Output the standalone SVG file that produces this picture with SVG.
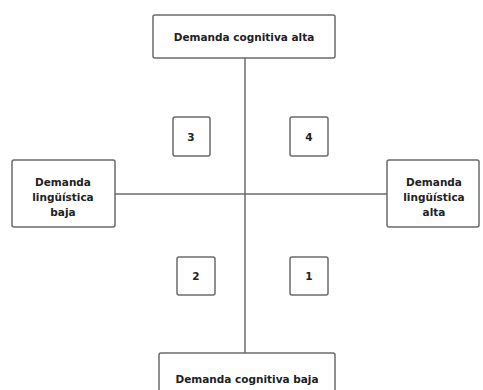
<svg xmlns="http://www.w3.org/2000/svg" width="483" height="390" viewBox="0 0 483 390">
<style>
.box{fill:#fff;stroke:#6b6b6b;stroke-width:1.5}
.ln{stroke:#6b6b6b;stroke-width:1.5;fill:none}
text{font-family:"DejaVu Sans",Verdana,sans-serif;font-weight:bold;font-size:10.5px;fill:#222;text-anchor:middle}
</style>
<rect width="483" height="390" fill="#fff"/>
<g id="connectors">
<line class="ln" x1="245" y1="58" x2="245" y2="353"/>
<line class="ln" x1="115" y1="194" x2="387" y2="194"/>
</g>
<g id="top"><rect class="box" x="153" y="15" width="182" height="43" rx="2"/><text x="244" y="41">Demanda cognitiva alta</text></g>
<g id="bottom"><rect class="box" x="159" y="353" width="176" height="45" rx="2"/><text x="247" y="383">Demanda cognitiva baja</text></g>
<g id="left"><rect class="box" x="12" y="160" width="103" height="67" rx="2"/><text x="63" y="186">Demanda</text><text x="63" y="201">lingüística</text><text x="63" y="216">baja</text></g>
<g id="right"><rect class="box" x="387" y="160" width="92" height="67" rx="2"/><text x="434" y="186">Demanda</text><text x="434" y="201">lingüística</text><text x="434" y="216">alta</text></g>
<g id="q3"><rect class="box" x="173" y="117" width="37" height="39" rx="2"/><text x="191" y="141">3</text></g>
<g id="q4"><rect class="box" x="290" y="117" width="38" height="39" rx="2"/><text x="309" y="141">4</text></g>
<g id="q2"><rect class="box" x="177" y="257" width="38" height="38" rx="2"/><text x="196" y="280">2</text></g>
<g id="q1"><rect class="box" x="290" y="257" width="38" height="38" rx="2"/><text x="309" y="280">1</text></g>
</svg>
